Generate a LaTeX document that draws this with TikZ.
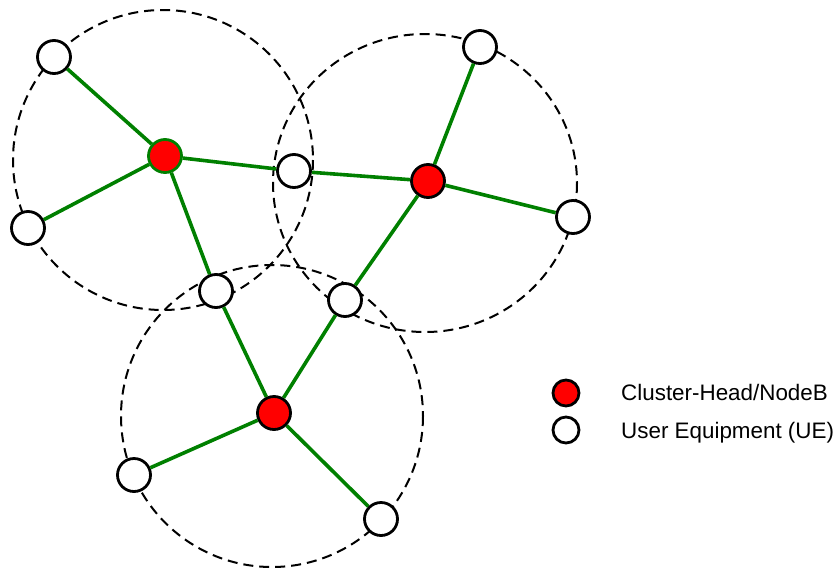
\documentclass[tikz,border=0pt]{standalone}
\usepackage{fontspec}
\setmainfont{Liberation Sans}
\definecolor{linkgreen}{RGB}{0,128,0}
\begin{document}
\begin{tikzpicture}[x=1pt,y=-1pt,
  ue/.style={circle,draw=black,line width=2.8pt,fill=white,minimum size=33pt,inner sep=0pt},
  ch/.style={ue,fill=red},
  link/.style={draw=linkgreen,line width=3.6pt},
  zone/.style={draw=black,line width=2pt,dash pattern=on 10pt off 6pt},
  legtext/.style={anchor=base west,inner sep=0pt,font=\fontsize{22.4}{26}\selectfont}]
\useasboundingbox (0,0) rectangle (839,571);
% coverage zones
\draw[zone] (163,160) circle [radius=150];
\draw[zone] (425,183) ellipse [x radius=152, y radius=149];
\draw[zone] (272,416) circle [radius=151];
% nodes
\node[ch,draw=linkgreen] (h1) at (165,156) {};
\node[ch] (h2) at (428,181) {};
\node[ch] (h3) at (274,413) {};
\node[ue] (u1) at (54,57) {};
\node[ue] (u2) at (28,228) {};
\node[ue] (u3) at (294,171) {};
\node[ue] (u4) at (216,291) {};
\node[ue] (u5) at (480,47) {};
\node[ue] (u6) at (573,217) {};
\node[ue] (u7) at (345,300) {};
\node[ue] (u8) at (134,475) {};
\node[ue] (u9) at (381,519) {};
% links
\path[link] (h1) -- (u1) (h1) -- (u2) (h1) -- (u3) (h1) -- (u4)
            (h2) -- (u5) (h2) -- (u6) (h2) -- (u3) (h2) -- (u7)
            (h3) -- (u4) (h3) -- (u7) (h3) -- (u8) (h3) -- (u9);
% legend
\node[ch,minimum size=26pt] (lch) at (566,393) {};
\node[ue,minimum size=26pt] (lue) at (566,430) {};
\node[legtext] (tch) at (621,400) {Cluster-Head/NodeB};
\node[legtext] (tue) at (621,438) {User Equipment (UE)};
\end{tikzpicture}
\end{document}
